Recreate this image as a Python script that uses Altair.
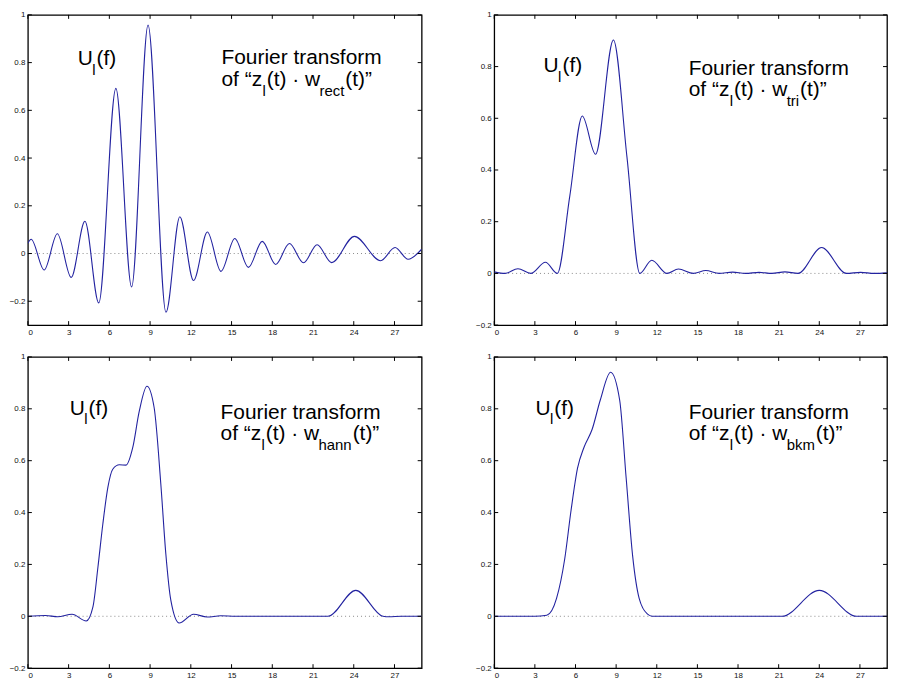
import altair as alt
import pandas as pd

FONT = "Liberation Sans"
LINE_COLOR = "#2323a0"

# ---- data ----
x_ticks = [0, 3, 6, 9, 12, 15, 18, 21, 24, 27]
y_ticks_rect = [-0.2, 0, 0.2, 0.4, 0.6, 0.8, 1]
y_ticks = [-0.2, 0, 0.2, 0.4, 0.6, 0.8, 1]

rect_f = [0, 0.24, 1.2, 2.17, 3.19, 4.2, 5.22, 6.48, 7.64, 8.85, 10.17, 11.19, 12.2, 13.22,
          14.22, 15.24, 16.24, 17.26, 18.25, 19.26, 20.3, 21.3, 22.37, 24.05, 25.98, 27.04,
          28.0, 29.0]
rect_v = [0.043, 0.06, -0.069, 0.083, -0.10, 0.135, -0.207, 0.692, -0.14, 0.957, -0.246,
          0.154, -0.113, 0.09, -0.075, 0.063, -0.058, 0.051, -0.046, 0.042, -0.039, 0.037,
          -0.038, 0.072, -0.03, 0.025, -0.024, 0.018]

tri_f = [0, 0.8, 1.75, 2.7, 3.78, 4.66, 5.58, 6.5, 7.48, 8.8, 9.8, 10.75, 11.63, 12.75,
         13.6, 14.7, 15.62, 16.6, 17.6, 18.55, 19.55, 20.5, 21.46, 22.43, 24.17, 26.0,
         27.05, 28.05, 29.0]
tri_v = [0.006, 0.0, 0.018, 0.0, 0.043, 0.0, 0.3, 0.609, 0.461, 0.903, 0.45, 0.0, 0.051,
         0.0, 0.017, 0.0, 0.011, 0.0, 0.005, 0.0, 0.004, 0.0, 0.006, 0.0, 0.1, 0.0,
         0.004, 0.0, 0.002]

hann_f = [0, 1.3, 2.2, 3.25, 4.3, 4.79, 5.16, 5.52, 5.89, 6.25, 6.74, 7.23, 7.72, 8.2,
          8.77, 9.3, 9.79, 10.16, 10.53, 11.14, 12.2, 13.2, 14.2, 15.3, 22.1, 24.15,
          26.15, 26.6, 27.5, 29.0]
hann_v = [0.0, 0.003, -0.002, 0.008, -0.018, 0.036, 0.19, 0.356, 0.497, 0.567, 0.584,
          0.583, 0.65, 0.79, 0.887, 0.804, 0.51, 0.24, 0.061, -0.026, 0.008, -0.003,
          0.002, 0.0, 0.0, 0.1, 0.0, -0.002, 0.0, 0.0]

bkm_f = [0, 3.0, 3.88, 4.6, 5.2, 5.67, 6.15, 6.63, 7.23, 7.83, 8.59, 9.26, 9.74, 10.22,
         10.7, 11.3, 11.66, 21.25, 24.0, 26.76, 29.0]
bkm_v = [0.0, 0.0, 0.004, 0.069, 0.22, 0.408, 0.571, 0.652, 0.721, 0.834, 0.941, 0.834,
         0.533, 0.232, 0.069, 0.009, 0.0, 0.0, 0.1, 0.0, 0.0]

subs = ["rect", "tri", "hann", "bkm"]

# Arial / Liberation Sans advance widths (per 1000 em) for the annotation layout
ADV = {" ": 278, "(": 333, ")": 333, "·": 278, "“": 333, "”": 333, "a": 556, "b": 556,
       "c": 500, "e": 556, "f": 278, "h": 556, "i": 222, "k": 500, "l": 222, "m": 833,
       "n": 556, "o": 556, "r": 333, "t": 278, "u": 556, "w": 722, "z": 500, "U": 722,
       "F": 611, "s": 500}


def tw(s, size):
    return sum(ADV.get(c, 556) for c in s) * size / 1000.0


M, S, SUB_DY, LINE_GAP = 21, 15, 10, 21.5


def piece(text, x, y, dx, dy, size):
    return alt.Chart(pd.DataFrame({"label": [text]})).mark_text(
        align="left", baseline="alphabetic", dx=dx, dy=dy, fontSize=size,
        font=FONT, color="black").encode(x=alt.datum(x), y=alt.datum(y), text="label:N")


def annotations(sub, ux, uy, tx, ty):
    out = []
    out.append(piece("U", ux, uy, 0, 0, M))
    off = tw("U", M) - 0.5
    out.append(piece("l", ux, uy, off, SUB_DY, S))
    off += tw("l", S) + 1.0
    out.append(piece("(f)", ux, uy, off, 0, M))
    out.append(piece("Fourier transform", tx, ty, 0, 0, M))
    off = 0
    out.append(piece("of “z", tx, ty, off, LINE_GAP, M))
    off += tw("of “z", M) + 0.3
    out.append(piece("l", tx, ty, off, LINE_GAP + SUB_DY, S))
    off += tw("l", S) + 1.0
    out.append(piece("(t) · w", tx, ty, off, LINE_GAP, M))
    off += tw("(t) · w", M) + 0.5
    out.append(piece(sub, tx, ty, off, LINE_GAP + SUB_DY, S))
    off += tw(sub, S) + 1.0
    out.append(piece("(t)”", tx, ty, off, LINE_GAP, M))
    return out


def panel(f, v, ymin, yt, sub, ux, uy, tx, ty, W, H):
    xs = alt.Scale(domain=[0, 29], nice=False, zero=False)
    ys = alt.Scale(domain=[ymin, 1], nice=False, zero=False)
    xenc = alt.X("f:Q", scale=xs, title=None,
                 axis=alt.Axis(values=x_ticks, format="d", title=None))
    yenc = alt.Y("v:Q", scale=ys, title=None,
                 axis=alt.Axis(values=yt, format="~g", title=None))
    line = alt.Chart(pd.DataFrame({"f": f, "v": v})).mark_line(
        color=LINE_COLOR, strokeWidth=1.1, interpolate="monotone", clip=True
    ).encode(x=xenc, y=yenc)
    zero = alt.Chart(pd.DataFrame({"v": [0]})).mark_rule(
        color="#8a8a8a", strokeDash=[1, 3], strokeWidth=1).encode(y=alt.Y("v:Q", scale=ys))
    xt = pd.DataFrame({"f": x_ticks})
    ytd = pd.DataFrame({"v": yt})
    tb = alt.Chart(xt).mark_rule(color="black").encode(
        x=alt.X("f:Q", scale=xs), y=alt.value(H), y2=alt.value(H - 4))
    tt = alt.Chart(xt).mark_rule(color="black").encode(
        x=alt.X("f:Q", scale=xs), y=alt.value(0), y2=alt.value(4))
    tl = alt.Chart(ytd).mark_rule(color="black").encode(
        y=alt.Y("v:Q", scale=ys), x=alt.value(0), x2=alt.value(4))
    tr = alt.Chart(ytd).mark_rule(color="black").encode(
        y=alt.Y("v:Q", scale=ys), x=alt.value(W), x2=alt.value(W - 4))
    layers = [zero, line, tb, tt, tl, tr] + annotations(sub, ux, uy, tx, ty)
    return alt.layer(*layers).properties(width=W, height=H)


W1, W2 = 396, 395
H1, H2 = 312, 313

p1 = panel(rect_f, rect_v, -0.3, y_ticks_rect, subs[0], 3.67, 0.79, 14.26, 0.793, W1, H1)
p2 = panel(tri_f, tri_v, -0.2, y_ticks, subs[1], 3.64, 0.778, 14.36, 0.768, W2, H1)
p3 = panel(hann_f, hann_v, -0.2, y_ticks, subs[2], 3.08, 0.778, 14.19, 0.762, W1, H2)
p4 = panel(bkm_f, bkm_v, -0.2, y_ticks, subs[3], 3.04, 0.778, 14.36, 0.762, W2, H2)

top = alt.hconcat(p1, p2, spacing=51)
bottom = alt.hconcat(p3, p4, spacing=51)

chart = alt.vconcat(top, bottom, spacing=15).properties(
    padding=0, background="white"
).configure_view(
    stroke="black", strokeWidth=1.3
).configure_axis(
    ticks=False, domain=False, grid=False, labelFont=FONT, labelFontSize=8,
    labelColor="#111111", labelPadding=3
)

chart.save("out.html", embed_options={"renderer": "svg", "actions": False})
